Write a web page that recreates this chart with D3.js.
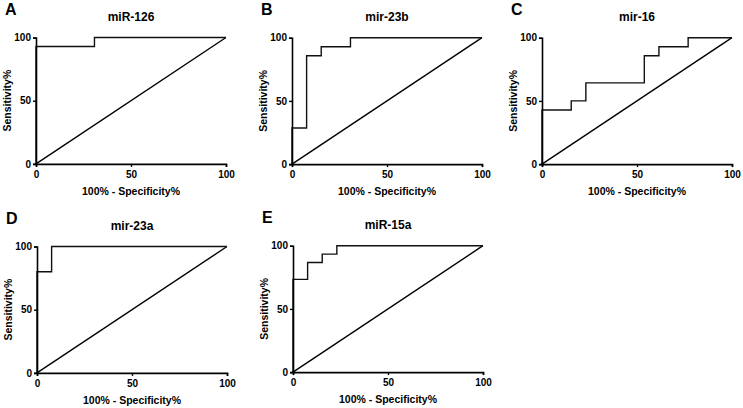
<!DOCTYPE html>
<html>
<head>
<meta charset="utf-8">
<script src="https://cdn.jsdelivr.net/npm/d3@7/dist/d3.min.js"></script>
<style>
  body { margin: 0; background: #fff; }
  svg { display: block; }
  text { font-family: "Liberation Sans", Arial, sans-serif; font-weight: bold; fill: #000; }
</style>
</head>
<body>
<svg id="chart" width="743" height="408"></svg>
<script>
// ROC curves - points are (100% - specificity, sensitivity), step after
const panelLetters = ["A", "B", "C", "D", "E"];
const panelTitles = ["miR-126", "mir-23b", "mir-16", "mir-23a", "miR-15a"];

const fprA = [0, 0, 30.77, 100];
const tprA = [0, 92.86, 100, 100];

const fprB = [0, 0, 7.69, 15.38, 30.77, 100];
const tprB = [0, 28.57, 85.71, 92.86, 100, 100];

const fprC = [0, 0, 15.38, 23.08, 53.85, 61.54, 76.92, 100];
const tprC = [0, 42.86, 50, 64.29, 85.71, 92.86, 100, 100];

const fprD = [0, 0, 7.69, 100];
const tprD = [0, 80, 100, 100];

const fprE = [0, 0, 7.69, 15.38, 23.08, 100];
const tprE = [0, 73.33, 86.67, 93.33, 100, 100];

const axisTicks = [0, 50, 100];

const curves = [[fprA, tprA], [fprB, tprB], [fprC, tprC], [fprD, tprD], [fprE, tprE]];

// plot area of each panel (left, top)
const layout = [
    {left: 36, top: 37.5},
    {left: 292, top: 37.7},
    {left: 542, top: 37.7},
    {left: 37, top: 246.5},
    {left: 293, top: 245.7}
];
const plotW = 190, plotH = 126.4;

const svg = d3.select("#chart");

curves.forEach(([fpr, tpr], i) => {
    const pos = layout[i];
    const g = svg.append("g").attr("transform", `translate(${pos.left},${pos.top})`);

    const x = d3.scaleLinear().domain([0, 100]).range([0, plotW]);
    const y = d3.scaleLinear().domain([0, 100]).range([plotH, 0]);

    // reference diagonal
    g.append("line")
        .attr("x1", x(0)).attr("y1", y(0))
        .attr("x2", x(100)).attr("y2", y(100))
        .attr("stroke", "#000")
        .attr("stroke-width", 1.4);

    // roc step curve
    const pts = fpr.map((v, k) => [v, tpr[k]]);
    const line = d3.line()
        .x(d => x(d[0]))
        .y(d => y(d[1]))
        .curve(d3.curveStepAfter);
    g.append("path")
        .attr("d", line(pts))
        .attr("fill", "none")
        .attr("stroke", "#111")
        .attr("stroke-width", 1.4);

    // axes
    const xAxis = g.append("g")
        .attr("transform", `translate(0,${plotH})`)
        .call(d3.axisBottom(x).tickValues(axisTicks).tickSize(3).tickPadding(4));
    const yAxis = g.append("g")
        .call(d3.axisLeft(y).tickValues(axisTicks).tickSize(3).tickPadding(2));

    [xAxis, yAxis].forEach(ax => {
        ax.select(".domain").attr("stroke", "#000").attr("stroke-width", 1.6);
        ax.selectAll(".tick line").attr("stroke", "#000").attr("stroke-width", 1.4);
        ax.selectAll(".tick text")
            .attr("fill", "#000")
            .style("font-size", "10px")
            .style("font-weight", "bold")
            .style("font-family", "'Liberation Sans', Arial, sans-serif");
    });
    xAxis.selectAll(".tick text").attr("dy", "0.72em");

    // axis titles
    g.append("text")
        .attr("x", plotW / 2)
        .attr("y", plotH + 31)
        .attr("text-anchor", "middle")
        .style("font-size", "10.5px")
        .text("100% - Specificity%");

    g.append("text")
        .attr("transform", `translate(-25,${plotH / 2}) rotate(-90)`)
        .attr("text-anchor", "middle")
        .style("font-size", "10.5px")
        .text("Sensitivity%");

    // title
    g.append("text")
        .attr("x", plotW / 2)
        .attr("y", -16.5)
        .attr("text-anchor", "middle")
        .style("font-size", "12px")
        .text(panelTitles[i]);

    // panel letter
    g.append("text")
        .attr("x", -31)
        .attr("y", -22.5)
        .style("font-size", "16px")
        .text(panelLetters[i]);
});
</script>
</body>
</html>
